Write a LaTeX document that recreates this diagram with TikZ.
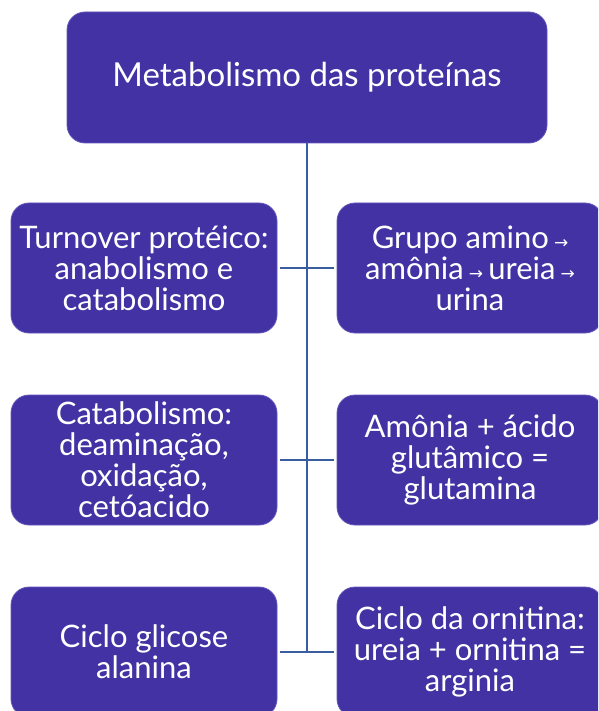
\documentclass[tikz,border=0pt]{standalone}
\usepackage{fontspec}
\setmainfont{Lato}
\newfontfamily\arrowfont{DejaVu Sans}
\definecolor{boxfill}{RGB}{66,50,163}
\definecolor{boxedge}{RGB}{98,86,186}
\definecolor{linkcol}{RGB}{58,92,160}
\newcommand{\smarr}{{\arrowfont\fontsize{17}{17}\selectfont →}}
\tikzset{
  pbox/.style={draw=boxedge, line width=0.8pt, fill=boxfill, rounded corners=18pt,
    text=white, align=center, inner sep=0pt,
    font=\fontsize{31}{31}\selectfont},
  sidebox/.style={pbox, minimum width=266pt, minimum height=130pt},
  link/.style={draw=linkcol, line width=2.6pt},
}
\begin{document}
\begin{tikzpicture}[x=1pt,y=-1pt]
\useasboundingbox (0,0) rectangle (598,711);
\clip (0,0) rectangle (598,711);
\node[pbox, minimum width=480pt, minimum height=131pt, font=\fontsize{33}{33}\selectfont] (top) at (307,77.5) {Metabolismo das proteínas};
\node[sidebox] (l1) at (144,268) {Turnover protéico:\\anabolismo e\\catabolismo};
\node[sidebox] (r1) at (470,268) {Grupo amino\,\smarr\\amônia\,\smarr\,ureia\,\smarr\\urina};
\node[sidebox] (l2) at (144,460) {Catabolismo:\\deaminação,\\oxidação,\\cetóacido};
\node[sidebox] (r2) at (470,460) {Amônia + ácido\\glutâmico =\\glutamina};
\node[sidebox] (l3) at (144,652) {Ciclo glicose\\alanina};
\node[sidebox] (r3) at (470,652) {Ciclo da ornitina:\\ureia + ornitina =\\arginia};
\coordinate (j3) at (top.south |- l3.east);
\draw[link] (top.south) -- (j3);
\draw[link, shorten <=3pt, shorten >=3pt] (l1.east) -- (r1.west);
\draw[link, shorten <=3pt, shorten >=3pt] (l2.east) -- (r2.west);
\draw[link, shorten <=3pt, shorten >=3pt] (l3.east) -- (r3.west);
\end{tikzpicture}
\end{document}
